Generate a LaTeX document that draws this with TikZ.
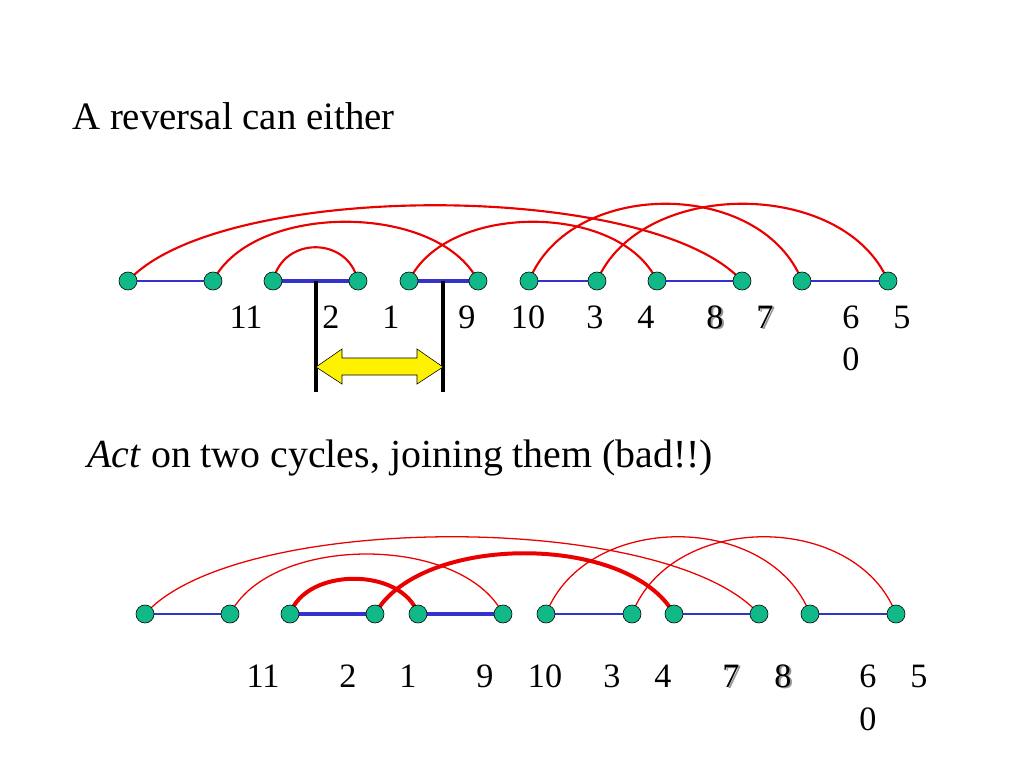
\documentclass[tikz,border=0pt]{standalone}
\usepackage{fontspec}
\setmainfont{Liberation Serif}
\usetikzlibrary{backgrounds}
\definecolor{dotgreen}{RGB}{16,185,135}
\definecolor{chainblue}{RGB}{51,51,204}
\definecolor{arcred}{RGB}{235,0,0}
\definecolor{shadegray}{RGB}{150,150,150}
% digit with a grey drop shadow
\newcommand{\shadnum}[1]{\makebox[0pt][l]{\hspace{1.3pt}\raisebox{-1.3pt}{\textcolor{shadegray}{#1}}}#1}

\begin{document}
\begin{tikzpicture}[x=0.703pt,y=-0.703pt,
		dot/.style    = {circle, draw=black, thin, fill=dotgreen, minimum size=12.7pt, inner sep=0pt},
		num/.style    = {font=\fontsize{24}{28}\selectfont, inner sep=0pt, anchor=base},
		heading/.style= {font=\fontsize{28}{32}\selectfont, inner sep=0pt, anchor=base west},
		thinchain/.style  = {draw=chainblue, line width=2.1pt},
		thickchain/.style = {draw=chainblue, line width=3.4pt},
		toparc/.style = {draw=arcred, line width=1.5pt},
		thinarc/.style= {draw=arcred, line width=0.9pt},
		fatarc/.style = {draw=arcred, line width=2.8pt},
		cut/.style    = {draw=black, line width=2.2pt}]

		\useasboundingbox (0,0) rectangle (1024,768);

		% headings
		\node[heading, font=\fontsize{27.3}{32}\selectfont] (head1) at (72,129) {A reversal can either};
		\node[heading] (head2) at (87,467) {\textit{Act} on two cycles, joining them (bad!!)};

		% the first row of points
		\foreach \x [count=\i] in {128,213,273,358,409,478,529,597,657,742,802,888}
		\node[dot] (t\i) at (\x,281) {};

		% the second row of points
		\foreach \x [count=\i] in {145,230,290,375,418,503,546,632,674,759,810,896}
		\node[dot] (b\i) at (\x,614) {};

		% labels of the first row
		\foreach \x/\t [count=\i] in {246/11,331/2,391/1,467/9,528/10,595/3,646/4,851/6,902/5}
		\node[num] (tl\i) at (\x,328) {\t};
		\node[num] (tl10) at (715,328) {\shadnum{8}};
		\node[num] (tl11) at (765,328) {\shadnum{7}};
		\node[num] (tl12) at (851,370) {0};

		% labels of the second row
		\foreach \x/\t [count=\i] in {263/11,348/2,408/1,485/9,545/10,612/3,663/4,868/6,919/5}
		\node[num] (bl\i) at (\x,687) {\t};
		\node[num] (bl10) at (731,687) {\shadnum{7}};
		\node[num] (bl11) at (783,687) {\shadnum{8}};
		\node[num] (bl12) at (868,730) {0};

		% the reversal cuts and the arrow between them
		\coordinate (cutL) at (316,392);
		\coordinate (cutR) at (443,392);
		\draw[cut] (cutL) -- (cutL |- t3);
		\draw[cut] (cutR) -- (cutR |- t3);
		\draw[draw=black, thin, fill=yellow] (cutL |- 0,367) -- ++(26,-18) -- ++(0,9) -- ++(75,0) -- ++(0,-9)
			-- (cutR |- 0,367) -- ++(-26,17) -- ++(0,-9) -- ++(-75,0) -- ++(0,9) -- cycle;

		\begin{scope}[on background layer]
			% blue edges, first row
			\foreach \a/\b in {1/2,7/8,9/10,11/12}
			\draw[thinchain] (t\a.center) -- (t\b.center);
			\foreach \a/\b in {3/4,5/6}
			\draw[thickchain] (t\a.center) -- (t\b.center);

			% arcs, first row
			\draw[toparc] (t1.center) .. controls +(92,-101) and +(-92,-101) .. (t10.center);
			\draw[toparc] (t2.center) .. controls +(40,-79) and +(-40,-79) .. (t6.center);
			\draw[toparc] (t3.center) .. controls +(10,-45) and +(-10,-45) .. (t4.center);
			\draw[toparc] (t5.center) .. controls +(37,-79) and +(-37,-79) .. (t9.center);
			\draw[toparc] (t7.center) .. controls +(41,-103) and +(-41,-103) .. (t11.center);
			\draw[toparc] (t8.center) .. controls +(44,-103) and +(-44,-103) .. (t12.center);

			% blue edges, second row
			\foreach \a/\b in {1/2,7/8,9/10,11/12}
			\draw[thinchain] (b\a.center) -- (b\b.center);
			\foreach \a/\b in {3/4,5/6}
			\draw[thickchain] (b\a.center) -- (b\b.center);

			% arcs, second row
			\draw[thinarc] (b1.center) .. controls +(92,-103) and +(-92,-103) .. (b10.center);
			\draw[thinarc] (b2.center) .. controls +(41,-80) and +(-41,-80) .. (b6.center);
			\draw[fatarc] (b3.center) .. controls +(16,-47) and +(-16,-47) .. (b5.center);
			\draw[fatarc] (b4.center) .. controls +(45,-81) and +(-45,-81) .. (b9.center);
			\draw[thinarc] (b7.center) .. controls +(40,-103) and +(-40,-103) .. (b11.center);
			\draw[thinarc] (b8.center) .. controls +(40,-103) and +(-40,-103) .. (b12.center);
		\end{scope}

	\end{tikzpicture}
\end{document}
